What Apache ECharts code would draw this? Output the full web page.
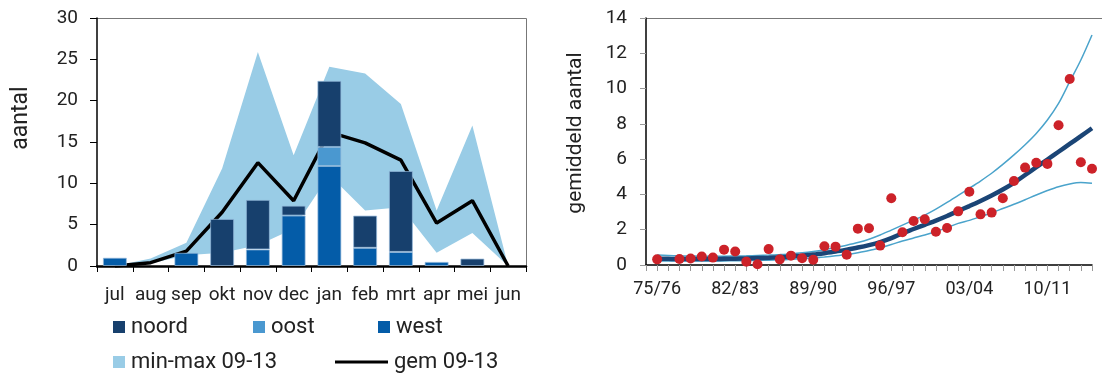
<!DOCTYPE html>
<html>
<head>
<meta charset="utf-8">
<script src="https://cdn.jsdelivr.net/npm/echarts@6/dist/echarts.min.js"></script>
<style>
  html, body { margin: 0; padding: 0; background: #fff; }
  #chart { width: 1102px; height: 374px; }
</style>
</head>
<body>
<div id="chart"></div>
<script>
// ---- Left panel: monthly counts per region, season overview ----
const months = ['jul', 'aug', 'sep', 'okt', 'nov', 'dec', 'jan', 'feb', 'mrt', 'apr', 'mei', 'jun'];
const west  = [1.0, null, 1.6, null, 2.0, 6.1, 12.1, 2.2, 1.7, 0.5, null, null];
const oost  = [null, null, null, null, null, null, 2.3, null, null, null, null, null];
const noord = [null, null, null, 5.7, 6.0, 1.2, 8.0, 3.9, 9.8, null, 0.9, null];
const bandMin = [0, 0.3, 1.3, 1.6, 2.5, 4.5, 11.0, 6.7, 7.1, 1.6, 4.0, 0];
const bandMax = [0, 0.9, 2.8, 11.8, 25.9, 13.4, 24.1, 23.3, 19.6, 6.7, 17.0, 0];
const gem     = [0, 0.4, 1.8, 6.5, 12.5, 7.9, 16.2, 14.9, 12.8, 5.2, 7.9, 0];
const leftTicks = [0, 5, 10, 15, 20, 25, 30];

// ---- Right panel: seasonal mean with trend and confidence limits ----
const seasons = ['74/75', '75/76', '76/77', '77/78', '78/79', '79/80', '80/81', '81/82', '82/83', '83/84',
  '84/85', '85/86', '86/87', '87/88', '88/89', '89/90', '90/91', '91/92', '92/93', '93/94',
  '94/95', '95/96', '96/97', '97/98', '98/99', '99/00', '00/01', '01/02', '02/03', '03/04',
  '04/05', '05/06', '06/07', '07/08', '08/09', '09/10', '10/11', '11/12', '12/13', '13/14', '14/15'];
const means = [null, 0.32, null, 0.34, 0.37, 0.48, 0.42, 0.87, 0.77, 0.19,
  0.04, 0.90, 0.32, 0.53, 0.38, 0.30, 1.06, 1.04, 0.58, 2.06,
  2.08, 1.10, 3.78, 1.86, 2.49, 2.59, 1.88, 2.10, 3.04, 4.15,
  2.87, 2.97, 3.78, 4.76, 5.52, 5.80, 5.73, 7.92, 10.54, 5.82, 5.46];
const trend = [null, 0.36, 0.35, 0.34, 0.34, 0.34, 0.34, 0.35, 0.36, 0.37,
  0.39, 0.41, 0.44, 0.48, 0.53, 0.59, 0.67, 0.76, 0.87, 0.99,
  1.13, 1.30, 1.52, 1.80, 2.04, 2.28, 2.52, 2.78, 3.06, 3.34,
  3.63, 3.94, 4.28, 4.66, 5.10, 5.54, 5.98, 6.42, 6.86, 7.30, 7.75];
const upper = [null, 0.56, 0.54, 0.52, 0.51, 0.50, 0.50, 0.50, 0.51, 0.52,
  0.54, 0.56, 0.59, 0.63, 0.69, 0.77, 0.87, 0.99, 1.12, 1.27,
  1.46, 1.70, 1.98, 2.26, 2.54, 2.83, 3.17, 3.55, 3.95, 4.35,
  4.76, 5.20, 5.70, 6.24, 6.82, 7.46, 8.22, 9.16, 10.39, 11.62, 13.04];
const lower = [null, 0.22, 0.22, 0.22, 0.22, 0.22, 0.22, 0.23, 0.24, 0.25,
  0.26, 0.27, 0.29, 0.32, 0.35, 0.39, 0.45, 0.52, 0.60, 0.70,
  0.82, 0.98, 1.16, 1.36, 1.53, 1.70, 1.90, 2.12, 2.36, 2.53,
  2.74, 2.96, 3.20, 3.44, 3.70, 3.97, 4.22, 4.44, 4.59, 4.67, 4.63];
const rightTicks = [0, 2, 4, 6, 8, 10, 12, 14];

const FONT = 'Roboto';
const TXT = '#222';

const bandRange = bandMax.map((v, i) => v - bandMin[i]);

function legendItem(name, left, top, opts) {
  return Object.assign({
    data: [name], left: left, top: top, padding: 0,
    icon: 'rect', itemWidth: 12, itemHeight: 12, itemGap: 0,
    selectedMode: false,
    textStyle: { fontFamily: FONT, fontSize: 22, color: TXT, padding: [0, 0, 0, 1] },
    itemStyle: { borderWidth: 0 }
  }, opts || {});
}

const chart = echarts.init(document.getElementById('chart'), null, { renderer: 'canvas' });

chart.setOption({
  animation: false,
  backgroundColor: '#fff',
  grid: [
    { left: 97, right: 576, top: 18, bottom: 108, containLabel: false },
    { left: 646, right: 10, top: 18, bottom: 109, containLabel: false }
  ],
  xAxis: [
    {
      gridIndex: 0, type: 'category', data: months, boundaryGap: true,
      axisLine: { lineStyle: { color: '#000', width: 2.5 } },
      axisTick: { show: true, length: 6, lineStyle: { color: '#000', width: 1 } },
      axisLabel: { fontFamily: FONT, fontSize: 19, color: TXT, margin: 20, interval: 0 },
      splitLine: { show: false }
    },
    {
      gridIndex: 1, type: 'category', data: seasons, boundaryGap: false,
      axisLine: { lineStyle: { color: '#000', width: 1.5 } },
      axisTick: { show: true, interval: 0, length: 6, lineStyle: { color: '#999', width: 1 } },
      axisLabel: {
        fontFamily: FONT, fontSize: 18, color: TXT, margin: 15,
        interval: (i) => i % 7 === 1
      },
      splitLine: { show: false }
    }
  ],
  yAxis: [
    {
      gridIndex: 0, type: 'value', min: leftTicks[0], max: leftTicks[leftTicks.length - 1], interval: 5,
      axisLine: { show: true, lineStyle: { color: '#000', width: 1.5 } },
      axisTick: { show: true, length: 7, lineStyle: { color: '#000', width: 1 } },
      axisLabel: { fontFamily: FONT, fontSize: 19, color: TXT, margin: 19 },
      splitLine: { show: false }
    },
    {
      gridIndex: 1, type: 'value', min: rightTicks[0], max: rightTicks[rightTicks.length - 1], interval: 2,
      axisLine: { show: true, lineStyle: { color: '#000', width: 1.5 } },
      axisTick: { show: true, length: 6, lineStyle: { color: '#999', width: 1 } },
      axisLabel: { fontFamily: FONT, fontSize: 19, color: TXT, margin: 19 },
      splitLine: { show: false }
    }
  ],
  legend: [
    legendItem('noord', 113, 316),
    legendItem('oost', 253, 316),
    legendItem('west', 378, 316),
    legendItem('min-max 09-13', 113, 351, { itemStyle: { color: '#99cce6', borderWidth: 0 } }),
    legendItem('gem 09-13', 335, 351, { itemWidth: 53, itemHeight: 3, itemStyle: { color: '#000', borderWidth: 0 } })
  ],
  graphic: [
    // plot frames (top and right edges)
    { type: 'line', shape: { x1: 97, y1: 18.5, x2: 526.5, y2: 18.5 }, style: { stroke: '#777', lineWidth: 1 }, silent: true },
    { type: 'line', shape: { x1: 526.5, y1: 18.5, x2: 526.5, y2: 266 }, style: { stroke: '#777', lineWidth: 1 }, silent: true },
    { type: 'line', shape: { x1: 646, y1: 18.5, x2: 1102, y2: 18.5 }, style: { stroke: '#777', lineWidth: 1 }, silent: true },
    // axis titles
    {
      type: 'text', x: 21, y: 118, rotation: Math.PI / 2, silent: true,
      style: { text: 'aantal', fontFamily: FONT, fontSize: 23, fill: TXT, align: 'center', verticalAlign: 'middle' }
    },
    {
      type: 'text', x: 576, y: 133, rotation: Math.PI / 2, silent: true,
      style: { text: 'gemiddeld aantal', fontFamily: FONT, fontSize: 21, fill: TXT, align: 'center', verticalAlign: 'middle' }
    }
  ],
  series: [
    // min-max band (stacked: base + range)
    {
      type: 'line', xAxisIndex: 0, yAxisIndex: 0, stack: 'band', data: bandMin,
      symbol: 'none', lineStyle: { width: 0 }, silent: true, z: 1
    },
    {
      name: 'min-max 09-13', type: 'line', xAxisIndex: 0, yAxisIndex: 0, stack: 'band', data: bandRange,
      symbol: 'none', lineStyle: { width: 0, color: '#99cce6' }, itemStyle: { color: '#99cce6' },
      areaStyle: { color: '#99cce6', opacity: 1 }, silent: true, z: 1
    },
    {
      name: 'gem 09-13', type: 'line', xAxisIndex: 0, yAxisIndex: 0, data: gem,
      symbol: 'none', lineStyle: { width: 3.5, color: '#000' }, itemStyle: { color: '#000' }, z: 2
    },
    {
      name: 'west', type: 'bar', xAxisIndex: 0, yAxisIndex: 0, stack: 'maand', data: west, barWidth: 24,
      itemStyle: { color: '#045ca8', borderColor: 'rgba(150,185,220,0.7)', borderWidth: 1 }, z: 3
    },
    {
      name: 'oost', type: 'bar', xAxisIndex: 0, yAxisIndex: 0, stack: 'maand', data: oost, barWidth: 24,
      itemStyle: { color: '#4a98d0', borderColor: 'rgba(150,185,220,0.7)', borderWidth: 1 }, z: 3
    },
    {
      name: 'noord', type: 'bar', xAxisIndex: 0, yAxisIndex: 0, stack: 'maand', data: noord, barWidth: 24,
      itemStyle: { color: '#17406d', borderColor: 'rgba(150,185,220,0.7)', borderWidth: 1 }, z: 3
    },
    // right panel
    {
      type: 'line', xAxisIndex: 1, yAxisIndex: 1, data: upper, smooth: 0.3,
      symbol: 'none', lineStyle: { width: 1.5, color: '#4aa3cb' }, z: 2
    },
    {
      type: 'line', xAxisIndex: 1, yAxisIndex: 1, data: lower, smooth: 0.3,
      symbol: 'none', lineStyle: { width: 1.5, color: '#4aa3cb' }, z: 2
    },
    {
      type: 'line', xAxisIndex: 1, yAxisIndex: 1, data: trend, smooth: 0.3,
      symbol: 'none', lineStyle: { width: 4.5, color: '#1b4576' }, z: 3
    },
    {
      type: 'scatter', xAxisIndex: 1, yAxisIndex: 1, data: means,
      symbol: 'circle', symbolSize: 10, itemStyle: { color: '#cc2229', opacity: 1 }, z: 4
    }
  ]
});
</script>
</body>
</html>
